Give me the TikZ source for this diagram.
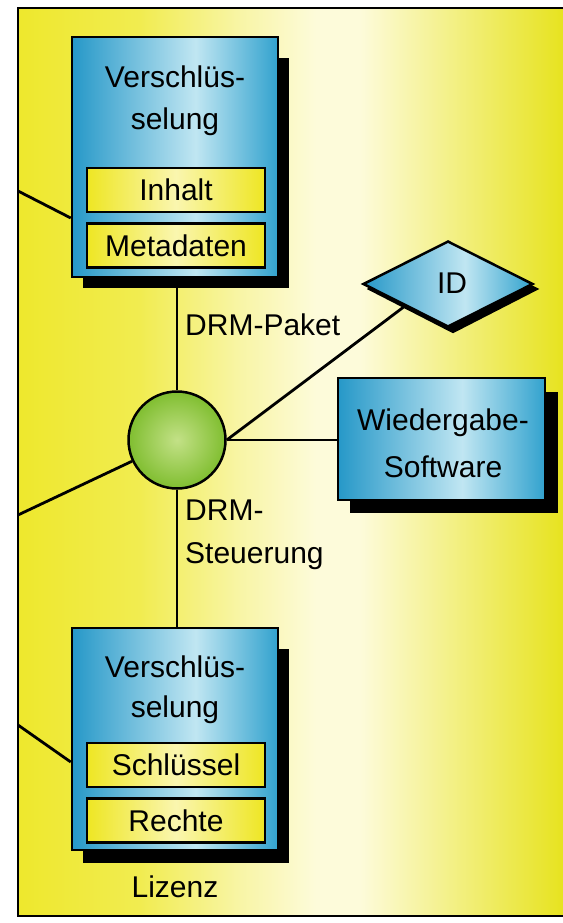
\documentclass[tikz,border=0pt]{standalone}
\usepackage{fontspec}
\setmainfont{Liberation Sans}
\usetikzlibrary{shapes.geometric,calc}
\definecolor{bdark}{RGB}{38,152,200}
\definecolor{blight}{RGB}{192,230,242}
\definecolor{bdark2}{RGB}{50,162,206}
\definecolor{ydark}{RGB}{238,230,35}
\definecolor{ylight}{RGB}{250,246,175}
\definecolor{py}{RGB}{238,232,45}
\definecolor{py2}{RGB}{241,236,80}
\definecolor{pm}{RGB}{248,245,165}
\definecolor{pw}{RGB}{253,251,218}
\definecolor{pr}{RGB}{230,226,25}
\definecolor{gin}{RGB}{195,225,135}
\definecolor{gout}{RGB}{128,190,48}
\pgfdeclarehorizontalshading{blueshade}{100bp}{color(0bp)=(bdark); color(25bp)=(bdark); color(55bp)=(blight); color(75bp)=(bdark2); color(100bp)=(bdark2)}
\pgfdeclarehorizontalshading{yellowshade}{100bp}{color(0bp)=(ydark); color(25bp)=(ydark); color(50bp)=(ylight); color(75bp)=(ydark); color(100bp)=(ydark)}
\pgfdeclarehorizontalshading{panelshade}{100bp}{color(0bp)=(py); color(25bp)=(py); color(36bp)=(py2); color(45bp)=(pm); color(52bp)=(pw); color(56bp)=(pw); color(75bp)=(pr); color(100bp)=(pr)}
\pgfdeclarelayer{bg}
\pgfdeclarelayer{sh}
\pgfsetlayers{bg,sh,main}
\begin{document}
\begin{tikzpicture}[x=1pt,y=-1pt,
  txt/.style={font=\fontsize{30}{36}\selectfont, inner sep=0pt, anchor=base},
  bluebox/.style={rectangle, draw=black, line width=2.5pt, shade, shading=blueshade, inner sep=0pt},
  ybox/.style={rectangle, draw=black, line width=2.2pt, shade, shading=yellowshade, inner sep=0pt,
     minimum width=178pt, minimum height=44pt, text height=21.5pt, text depth=0pt,
     font=\fontsize{30}{36}\selectfont},
  conn/.style={line width=2.8pt, draw=black},
  shad/.style={fill=black}]
\useasboundingbox (0,0) rectangle (562,923);

\begin{pgfonlayer}{bg}
\fill[white] (-6,-6) rectangle (570,930);
\shade[shading=panelshade] (18,8) rectangle (570,916);
\draw[line width=2.5pt] (570,8) -- (18,8) -- (18,916) -- (570,916);
\end{pgfonlayer}

% upper encryption box
\node[bluebox, minimum width=206pt, minimum height=240pt] (enc1) at (175,157) {};
\node[txt] (enc1a) at (175,88) {Verschlüs-};
\node[txt] (enc1b) at (175,130) {selung};
\node[ybox] (inhalt) at (176,190) {Inhalt};
\node[ybox] (meta) at (176,245.5) {Metadaten};

% lower encryption box
\node[bluebox, minimum width=206pt, minimum height=222pt] (enc2) at (175,739) {};
\node[txt] (enc2a) at (175,677) {Verschlüs-};
\node[txt] (enc2b) at (175,717) {selung};
\node[ybox] (schl) at (176,765) {Schlüssel};
\node[ybox] (rechte) at (176,820.5) {Rechte};
\node[txt] (lizenz) at (175,897) {Lizenz};

% center circle
\node[circle, draw=black, line width=2.5pt, minimum size=97pt, inner sep=0pt,
      inner color=gin, outer color=gout] (drm) at (177,440) {};

% ID diamond
\node[diamond, draw=black, line width=2.5pt, minimum width=170pt, minimum height=86pt,
      inner sep=0pt, shade, shading=blueshade] (id) at (448,284) {};
\node[txt] (idt) at (452,293) {ID};

% playback software
\node[bluebox, minimum width=207pt, minimum height=122pt] (wg) at (441.5,439) {};
\node[txt] (wga) at (443,430) {Wiedergabe-};
\node[txt] (wgb) at (443,477) {Software};

% shadows
\begin{pgfonlayer}{sh}
\fill[shad] ([shift={(12,22)}]enc1.north west) rectangle ([shift={(10,10)}]enc1.south east);
\fill[shad] ([shift={(12,22)}]enc2.north west) rectangle ([shift={(10,12)}]enc2.south east);
\fill[shad] ([shift={(13,15)}]wg.north west) rectangle ([shift={(12,12)}]wg.south east);
\fill[shad] ([shift={(5,5)}]id.north) -- ([shift={(5,5)}]id.east) -- ([shift={(5,5)}]id.south) -- ([shift={(5,5)}]id.west) -- cycle;
\end{pgfonlayer}

% labels
\node[txt, anchor=base west] (pak) at (185,335) {DRM-Paket};
\node[txt, anchor=base west] (st1) at (185,520) {DRM-};
\node[txt, anchor=base west] (st2) at (185,563) {Steuerung};

% connectors
\coordinate (fa) at (18,191);
\coordinate (fb) at (18,515);
\coordinate (fc) at (18,725);
\draw[conn] (fa) -- ([yshift=-61pt]enc1.west);
\draw[conn] (fb) -- (drm);
\draw[conn] (fc) -- ([yshift=-23pt]enc2.west);
\draw[conn] (drm.north) -- (drm.north |- enc1.south);
\draw[conn] (drm.south) -- (drm.south |- enc2.north);
\draw[conn] (drm.east) -- (drm.east -| wg.west);
\draw[conn] (drm.east) -- (id.south west);
\end{tikzpicture}
\end{document}
